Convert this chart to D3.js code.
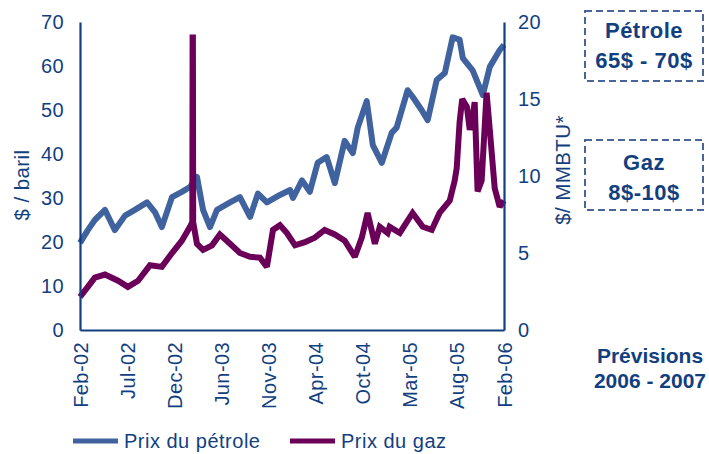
<!DOCTYPE html>
<html>
<head>
<meta charset="utf-8">
<script src="https://cdn.jsdelivr.net/npm/d3@7"></script>
<style>
  body { margin: 0; background: #fff; }
  text { font-family: "Liberation Sans", Arial, sans-serif; }
</style>
</head>
<body>
<div id="chart"></div>
<script>
// prix du pétrole ($ / baril)
const oilDates = ['2002-02-01', '2002-02-28', '2002-03-24', '2002-04-28', '2002-05-15', '2002-06-01',
    '2002-07-06', '2002-08-09', '2002-09-20', '2002-10-17', '2002-11-10', '2002-12-15', '2003-01-18',
    '2003-02-15', '2003-03-11', '2003-04-01', '2003-04-25', '2003-05-19', '2003-07-03', '2003-08-06',
    '2003-09-10', '2003-10-07', '2003-11-07', '2003-12-22', '2004-01-26', '2004-02-05', '2004-03-07',
    '2004-04-03', '2004-04-30', '2004-05-31', '2004-06-28', '2004-08-01', '2004-08-29', '2004-09-15',
    '2004-10-16', '2004-11-06', '2004-12-07', '2005-01-10', '2005-01-27', '2005-03-06', '2005-03-23',
    '2005-04-23', '2005-05-14', '2005-06-14', '2005-07-12', '2005-08-08', '2005-09-01', '2005-09-12',
    '2005-10-16', '2005-11-20', '2005-12-14', '2006-01-17', '2006-02-01'];
const oilValues = [19.8, 22.7, 25, 27.3, 25, 22.7,
    26, 27.3, 29, 26.8, 23.4, 30.2, 31.4,
    32.5, 34.8, 27.3, 23.4, 27.3, 29, 30.2,
    25.7, 31, 29, 30.7, 31.8, 30, 34,
    31.4, 38, 39.3, 33.4, 43, 40.2, 46,
    52, 42, 38, 44.8, 46, 54.5, 53,
    50, 47.7, 56.8, 58.4, 66.5, 66, 61.8,
    59, 53.4, 59.8, 63.6, 64.8];

// prix du gaz ($/MMBTU)
const gasDates = ['2002-02-01', '2002-02-28', '2002-03-24', '2002-04-28', '2002-06-12', '2002-07-16',
    '2002-08-20', '2002-09-30', '2002-11-10', '2002-12-15', '2003-01-18', '2003-02-15', '2003-02-23',
    '2003-02-24', '2003-02-25', '2003-02-26', '2003-03-11', '2003-04-01', '2003-05-02', '2003-05-29',
    '2003-07-03', '2003-08-06', '2003-09-10', '2003-10-14', '2003-11-07', '2003-11-28', '2003-12-22',
    '2004-01-15', '2004-02-12', '2004-03-17', '2004-04-20', '2004-05-24', '2004-06-28', '2004-08-01',
    '2004-09-05', '2004-09-29', '2004-10-19', '2004-11-13', '2004-11-30', '2004-12-27', '2005-01-03',
    '2005-02-07', '2005-03-23', '2005-04-27', '2005-05-28', '2005-06-24', '2005-07-29', '2005-08-15',
    '2005-08-22', '2005-09-01', '2005-09-10', '2005-09-26', '2005-10-06', '2005-10-13', '2005-10-23',
    '2005-11-02', '2005-11-16', '2005-12-03', '2005-12-14', '2005-12-31', '2006-01-17', '2006-02-01'];
const gasValues = [2.15, 2.8, 3.4, 3.6, 3.2, 2.8,
    3.2, 4.2, 4.1, 5, 5.8, 6.7, 7,
    19, 19, 7, 5.6, 5.2, 5.5, 6.2,
    5.6, 5, 4.75, 4.7, 4.1, 6.5, 6.8,
    6.3, 5.5, 5.7, 6, 6.5, 6.2, 5.8,
    4.75, 6, 7.6, 5.6, 6.7, 6.3, 6.7,
    6.3, 7.6, 6.7, 6.5, 7.6, 8.4, 9.7,
    10.5, 13.5, 15, 14.5, 13, 13.5, 14.8,
    9, 9.7, 15.4, 13, 9.2, 8, 8.4];

const xTickLabels = ['Feb-02', 'Jul-02', 'Dec-02', 'Jun-03', 'Nov-03', 'Apr-04', 'Oct-04', 'Mar-05', 'Aug-05', 'Feb-06'];
const leftTicks = [0, 10, 20, 30, 40, 50, 60, 70];
const rightTicks = [0, 5, 10, 15, 20];
const legendLabels = ['Prix du pétrole', 'Prix du gaz'];
const boxTexts = [['Pétrole', '65$ - 70$'], ['Gaz', '8$-10$']];
const forecastTexts = ['Prévisions', '2006 - 2007'];

const AXIS = '#123f80';
const OIL = '#4063a0';
const GAS = '#6a0058';
const BOX = '#4a6699';

const parse = d3.timeParse('%Y-%m-%d');
const oilData = oilDates.map((d, i) => ({ date: parse(d), value: oilValues[i] }));
const gasData = gasDates.map((d, i) => ({ date: parse(d), value: gasValues[i] }));

const W = 709, H = 454;
const plot = { left: 80, right: 504, top: 22, bottom: 330 };

const svg = d3.select('#chart').append('svg')
    .attr('width', W)
    .attr('height', H);

const start = parse('2002-02-01'), end = parse('2006-02-01');
const x = d3.scaleTime().domain([start, end]).range([plot.left, plot.right]);
const yOil = d3.scaleLinear().domain([0, 70]).range([plot.bottom, plot.top]);
const yGas = d3.scaleLinear().domain([0, 20]).range([plot.bottom, plot.top]);

// ticks espacés régulièrement (axe Excel)
const tickDates = xTickLabels.map((l, i) => new Date(+start + (end - start) * i / (xTickLabels.length - 1)));

// courbes
const oilLine = d3.line().x(d => x(d.date)).y(d => yOil(d.value));
const gasLine = d3.line().x(d => x(d.date)).y(d => yGas(d.value));

svg.append('path')
    .datum(oilData)
    .attr('d', oilLine)
    .attr('fill', 'none')
    .attr('stroke', OIL)
    .attr('stroke-width', 6)
    .attr('stroke-linejoin', 'round');

svg.append('path')
    .datum(gasData)
    .attr('d', gasLine)
    .attr('fill', 'none')
    .attr('stroke', GAS)
    .attr('stroke-width', 6)
    .attr('stroke-linejoin', 'miter')
    .attr('stroke-miterlimit', 2);

// axes
const leftAxis = svg.append('g')
    .attr('transform', `translate(${plot.left},0)`)
    .call(d3.axisLeft(yOil).tickValues(leftTicks).tickSize(0).tickPadding(16));
const rightAxis = svg.append('g')
    .attr('transform', `translate(${plot.right},0)`)
    .call(d3.axisRight(yGas).tickValues(rightTicks).tickSize(0).tickPadding(14));
const bottomAxis = svg.append('g')
    .attr('transform', `translate(0,${plot.bottom})`)
    .call(d3.axisBottom(x).tickValues(tickDates).tickSize(0).tickFormat((d, i) => xTickLabels[i]));

[leftAxis, rightAxis, bottomAxis].forEach(g => {
    g.select('.domain').attr('stroke', AXIS).attr('stroke-width', 2.2);
    g.selectAll('text')
        .attr('fill', AXIS)
        .style('font-size', '20px')
        .style('letter-spacing', '0.4px')
        .style('font-family', '"Liberation Sans", Arial, sans-serif');
});
bottomAxis.selectAll('text')
    .attr('transform', 'rotate(-90)')
    .attr('text-anchor', 'end')
    .attr('x', -12)
    .attr('y', 0)
    .attr('dy', '0.35em');

// titres des axes
svg.append('text')
    .attr('transform', 'translate(29,185) rotate(-90)')
    .attr('text-anchor', 'middle')
    .attr('fill', AXIS)
    .style('font-size', '20.5px')
    .style('letter-spacing', '0.4px')
    .text('$ / baril');
svg.append('text')
    .attr('transform', 'translate(570,170) rotate(-90)')
    .attr('text-anchor', 'middle')
    .attr('fill', AXIS)
    .style('font-size', '20.5px')
    .style('letter-spacing', '0.4px')
    .text('$/ MMBTU*');

// encadrés prévisions
const boxTop = [11, 140];
const boxBaselines = [[38, 68], [170, 200]];
boxTexts.forEach((lines, i) => {
    svg.append('rect')
        .attr('x', 585).attr('y', boxTop[i])
        .attr('width', 118).attr('height', 70)
        .attr('fill', 'none')
        .attr('stroke', BOX)
        .attr('stroke-width', 2)
        .attr('stroke-dasharray', '7,4');
    lines.forEach((t, j) => {
        svg.append('text')
            .attr('x', 644)
            .attr('y', boxBaselines[i][j])
            .attr('text-anchor', 'middle')
            .attr('fill', AXIS)
            .style('font-size', '22px')
            .style('letter-spacing', '0.5px')
            .style('font-weight', 'bold')
            .text(t);
    });
});

forecastTexts.forEach((t, j) => {
    svg.append('text')
        .attr('x', 650)
        .attr('y', 363 + j * 25)
        .attr('text-anchor', 'middle')
        .attr('fill', AXIS)
        .style('font-size', '21px')
        .style('font-weight', 'bold')
        .text(t);
});

// légende
const legendX = [73, 290];
[OIL, GAS].forEach((c, i) => {
    svg.append('line')
        .attr('x1', legendX[i]).attr('x2', legendX[i] + 45)
        .attr('y1', 441).attr('y2', 441)
        .attr('stroke', c)
        .attr('stroke-width', 5);
    svg.append('text')
        .attr('x', legendX[i] + 51)
        .attr('y', 448)
        .attr('fill', AXIS)
        .style('font-size', '20px')
        .style('letter-spacing', '0.5px')
        .text(legendLabels[i]);
});
</script>
</body>
</html>
